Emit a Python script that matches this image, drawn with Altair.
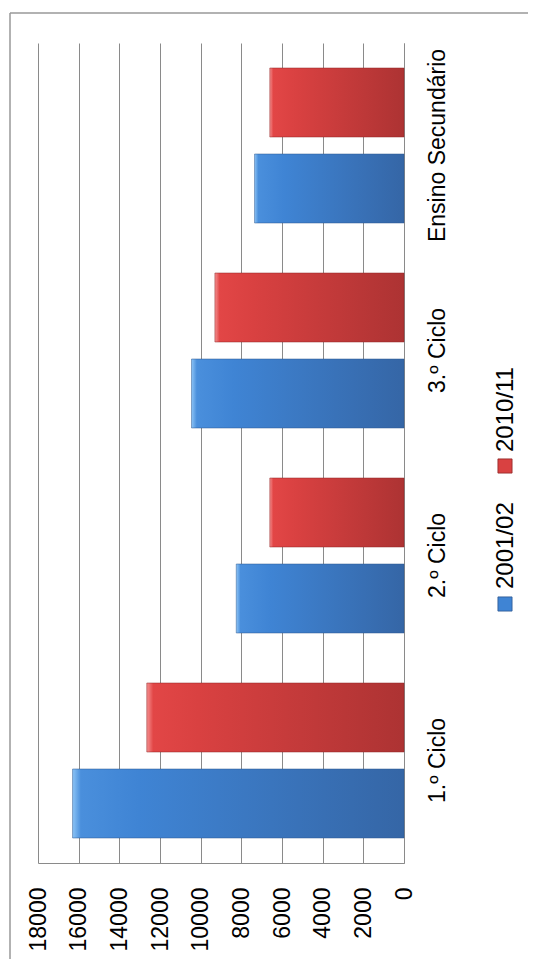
import altair as alt
import pandas as pd

categories = ["1.º Ciclo", "2.º Ciclo", "3.º Ciclo", "Ensino Secundário"]
series = ["2001/02", "2010/11"]
values_2001 = [16300, 8250, 10450, 7350]
values_2010 = [12650, 6600, 9300, 6600]
ticks = [0, 2000, 4000, 6000, 8000, 10000, 12000, 14000, 16000, 18000]

rows = []
for c, a, b in zip(categories, values_2001, values_2010):
    rows.append({"cat": c, "serie": series[0], "valor": a})
    rows.append({"cat": c, "serie": series[1], "valor": b})
df = pd.DataFrame(rows)
legend_df = pd.DataFrame({"serie": series})

W, H = 366, 820
PAD = {"left": 30, "top": 35, "right": 124, "bottom": 96}
FONT = "Liberation Sans"

x_enc = alt.X(
    "valor:Q",
    scale=alt.Scale(domain=[0, 18000], reverse=True, nice=False),
    axis=alt.Axis(
        values=ticks, orient="bottom", labelAngle=270, labelAlign="right",
        labelBaseline="middle", labelPadding=24, ticks=False, title=None,
        grid=True, gridColor="#8a8a8a", gridWidth=1, domainColor="#8a8a8a",
        labelFont=FONT, labelFontSize=23, labelColor="#000000", format="d",
    ),
)
y_enc = alt.Y(
    "cat:N",
    sort=list(reversed(categories)),
    scale=alt.Scale(paddingInner=0.244, paddingOuter=0.122),
    axis=alt.Axis(
        orient="right", labelAngle=270, labelAlign="center", labelBaseline="top",
        labelPadding=22, ticks=False, title=None, domainColor="#8a8a8a",
        labelFont=FONT, labelFontSize=23, labelColor="#000000", labelLimit=400,
    ),
)
yoff = alt.YOffset(
    "serie:N",
    scale=alt.Scale(domain=[series[1], series[0]], paddingInner=0.198, paddingOuter=0),
)

blue_grad = alt.Gradient(
    gradient="linear", x1=0, x2=1, y1=0, y2=0,
    stops=[
        alt.GradientStop(color="#8cc4f6", offset=0),
        alt.GradientStop(color="#4a8fdc", offset=0.025),
        alt.GradientStop(color="#3f84d4", offset=0.2),
        alt.GradientStop(color="#3566a6", offset=1),
    ],
)
red_grad = alt.Gradient(
    gradient="linear", x1=0, x2=1, y1=0, y2=0,
    stops=[
        alt.GradientStop(color="#f59090", offset=0),
        alt.GradientStop(color="#e24646", offset=0.025),
        alt.GradientStop(color="#d94141", offset=0.2),
        alt.GradientStop(color="#ad3333", offset=1),
    ],
)

base = alt.Chart(df)
bars_blue = base.transform_filter(alt.datum.serie == series[0]).mark_bar(
    fill=blue_grad, stroke="#2d5790", strokeOpacity=0.5, strokeWidth=1
).encode(x=x_enc, y=y_enc, yOffset=yoff)
bars_red = base.transform_filter(alt.datum.serie == series[1]).mark_bar(
    fill=red_grad, stroke="#8f2626", strokeOpacity=0.5, strokeWidth=1
).encode(x=x_enc, y=y_enc, yOffset=yoff)

one = alt.Data(values=[{}])
border_top = alt.Chart(one).mark_rule(color="#999999", strokeWidth=1.5).encode(
    x=alt.value(-28), x2=alt.value(W + PAD["right"]), y=alt.value(-30)
)
border_left = alt.Chart(one).mark_rule(color="#999999", strokeWidth=1.5).encode(
    x=alt.value(-28), y=alt.value(-30), y2=alt.value(H + PAD["bottom"])
)

leg = alt.Chart(legend_df)
sq_blue = leg.transform_filter(alt.datum.serie == series[0]).mark_square(
    size=200, color="#3f84d4", opacity=1, stroke="#2d5790", strokeWidth=0.8
).encode(x=alt.value(467), y=alt.value(561))
sq_red = leg.transform_filter(alt.datum.serie == series[1]).mark_square(
    size=200, color="#d94141", opacity=1, stroke="#8f2626", strokeWidth=0.8
).encode(x=alt.value(467), y=alt.value(423))
txt_blue = leg.transform_filter(alt.datum.serie == series[0]).mark_text(
    angle=270, align="left", baseline="middle", font=FONT, fontSize=24, color="#000000"
).encode(text="serie:N", x=alt.value(468), y=alt.value(546))
txt_red = leg.transform_filter(alt.datum.serie == series[1]).mark_text(
    angle=270, align="left", baseline="middle", font=FONT, fontSize=24, color="#000000"
).encode(text="serie:N", x=alt.value(468), y=alt.value(409))

chart = alt.layer(
    bars_blue, bars_red, border_top, border_left, sq_blue, sq_red, txt_blue, txt_red
).properties(
    width=W, height=H,
    autosize=alt.AutoSizeParams(type="none"),
    padding=PAD,
    background="#ffffff",
).configure_view(strokeWidth=0)

chart.save("out.html", embed_options={"renderer": "svg", "actions": False})
